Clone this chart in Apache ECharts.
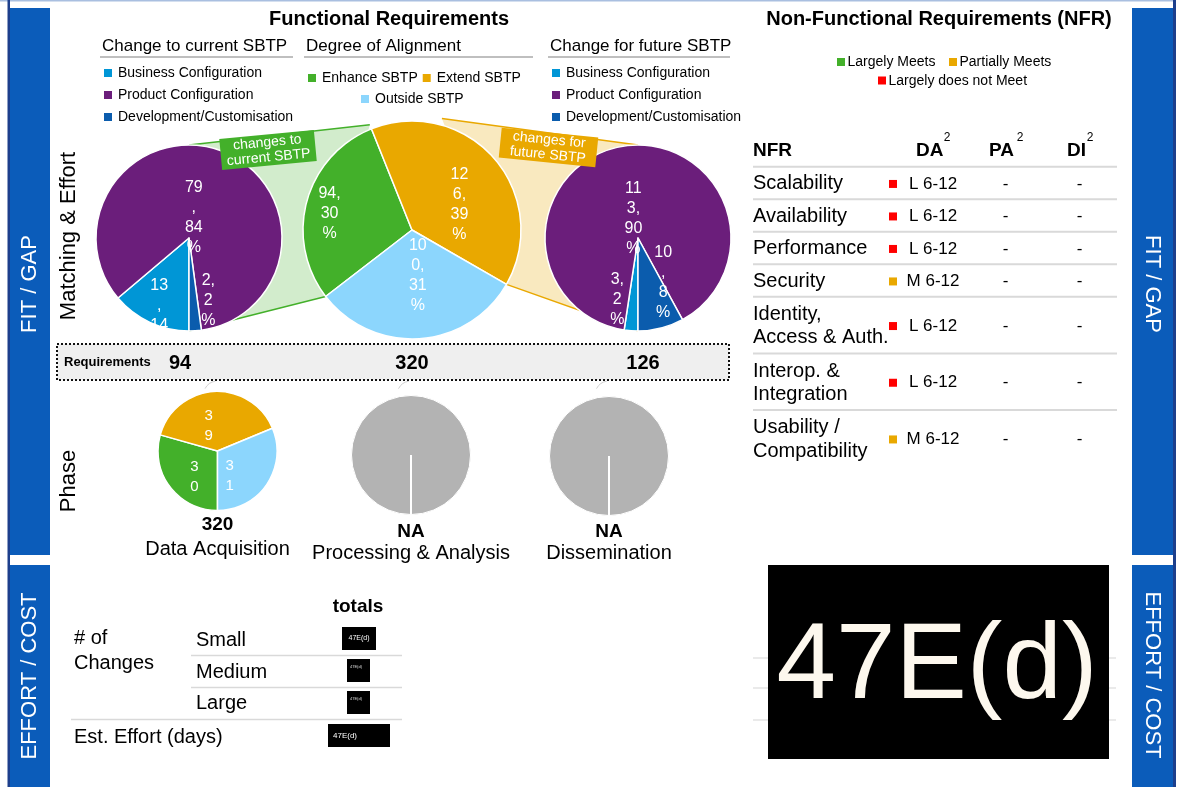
<!DOCTYPE html>
<html><head><meta charset="utf-8">
<script src="https://cdn.jsdelivr.net/npm/echarts@6/dist/echarts.min.js"></script>
<style>html,body{margin:0;padding:0;background:#fff}#c{width:1180px;height:787px}</style>
</head><body><div id="c"></div>
<script>
// ---------------- data ----------------
const changeCategories = ['Business Configuration', 'Product Configuration', 'Development/Customisation'];
const currentChanges = [13, 79, 2];
const futureChanges = [3, 113, 10];
const alignCategories = ['Enhance SBTP', 'Extend SBTP', 'Outside SBTP'];
const alignValues = [94, 126, 100];
const requirementTotals = ['94', '320', '126'];
const phaseNames = ['Data Acquisition', 'Processing & Analysis', 'Dissemination'];
const phaseTotals = ['320', 'NA', 'NA'];
const nfrColumns = ['NFR', 'DA', 'PA', 'DI'];
const nfrNames = ['Scalability', 'Availability', 'Performance', 'Security', 'Identity,\nAccess & Auth.', 'Interop. &\nIntegration', 'Usability /\nCompatibility'];
const nfrDAStatus = ['Largely does not Meet', 'Largely does not Meet', 'Largely does not Meet', 'Partially Meets', 'Largely does not Meet', 'Largely does not Meet', 'Partially Meets'];
const nfrDA = ['L 6-12', 'L 6-12', 'L 6-12', 'M 6-12', 'L 6-12', 'L 6-12', 'M 6-12'];
const nfrPA = ['-', '-', '-', '-', '-', '-', '-'];
const nfrDI = ['-', '-', '-', '-', '-', '-', '-'];
const nfrLegend = ['Largely Meets', 'Partially Meets', 'Largely does not Meet'];
const effortRows = ['Small', 'Medium', 'Large'];
const effortTotals = ['47E(d)', '47E(d)', '47E(d)'];
const estEffort = '47E(d)';
const bigValue = '47E(d)';

// ---------------- style ----------------
const FF = "'Liberation Sans', Arial, Helvetica, sans-serif";
const COL = {
  busi: '#0096d6', prod: '#6b1e7b', dev: '#0b5cad',
  enh: '#43b02a', ext: '#e9a800', out: '#8cd6fd',
  gray: '#b3b3b3', panel: '#0b5cba', panelEdge: '#1d3f8c'
};
const changeColors = [COL.busi, COL.prod, COL.dev];
const alignColors = [COL.enh, COL.ext, COL.out];
const statusColors = { 'Largely Meets': COL.enh, 'Partially Meets': COL.ext, 'Largely does not Meet': '#ff0000' };

const PIE = {
  cur: { cx: 189, cy: 238, r: 93 },
  mid: { cx: 412, cy: 230, r: 109 },
  fut: { cx: 638, cy: 238, r: 93 }
};
const alignStart = 232.4; // compass degrees where first slice starts

// label text wrapping like the original (narrow data-label boxes)
const CW = { ',': .278, ' ': .278, '%': .889, '.': .278 };
function measure(s, fs) { let w = 0; for (const ch of s) w += (CW[ch] !== undefined ? CW[ch] : .556) * fs; return w; }
function wrap(text, maxW, fs) {
  const lines = []; let cur = '';
  for (const w of text.split(' ')) {
    if (cur && measure(cur + ' ' + w, fs) <= maxW) { cur += ' ' + w; continue; }
    if (cur) { lines.push(cur); cur = ''; }
    let word = w;
    while (measure(word, fs) > maxW && word.length > 1) {
      let i = 1;
      while (i < word.length && measure(word.slice(0, i + 1), fs) <= maxW) i++;
      lines.push(word.slice(0, i)); word = word.slice(i);
    }
    cur = word;
  }
  if (cur) lines.push(cur);
  return lines.join('\n');
}

const shifts = {
  cur: [[-9, 33], [-13, 26], [16, 13]],
  mid: [[-27, -1], [4, 12], [2, -12]],
  fut: [[-17, 12], [4, 29], [13, -3]],
  phase: [[3, 6], [-7, 8], [-15, 7]]
};

function pieSeries(name, center, radius, startAngle, cats, vals, colors, wrapW, key, fs) {
  return {
    type: 'pie', name, center, radius, startAngle, clockwise: true,
    percentPrecision: 0, animation: false, silent: true,
    itemStyle: { borderColor: '#fff', borderWidth: 1.5 },
    label: {
      show: true, position: 'inside', color: '#fff', fontSize: fs, lineHeight: 20, fontFamily: FF,
      formatter: p => key === 'phase' ? wrap(String(p.percent), wrapW, fs) : wrap(p.value + ', ' + p.percent + '%', wrapW, fs)
    },
    labelLine: { show: false },
    labelLayout: p => ({ dx: shifts[key][p.dataIndex][0], dy: shifts[key][p.dataIndex][1] }),
    emphasis: { disabled: true },
    data: vals.map((v, i) => ({ name: cats[i], value: v, itemStyle: { color: colors[i] } }))
  };
}
function naSeries(center) {
  return {
    type: 'pie', center, radius: 59.5, startAngle: 270, animation: false, silent: true,
    itemStyle: { borderColor: '#fff', borderWidth: 1, color: COL.gray },
    label: { show: false }, labelLine: { show: false }, emphasis: { disabled: true },
    data: [{ name: 'NA', value: 1 }]
  };
}

// ---------------- graphic helpers ----------------
function txt(x, y, s, o) {
  o = o || {};
  const st = { text: s, fill: o.color || '#000', fontSize: o.size || 14, fontWeight: o.bold ? 'bold' : 'normal',
    fontFamily: FF, align: o.align || 'left', verticalAlign: o.va || 'middle' };
  if (o.lh) st.lineHeight = o.lh;
  return { type: 'text', x, y, z: o.z !== undefined ? o.z : 20, rotation: o.rot || 0, silent: true, style: st };
}
function rect(x, y, w, h, fill, o) {
  o = o || {};
  return { type: 'rect', z: o.z !== undefined ? o.z : 20, silent: true, shape: { x, y, width: w, height: h },
    style: { fill, stroke: o.stroke || null, lineWidth: o.lw || 0, lineDash: o.dash || null } };
}
function line(x1, y1, x2, y2, stroke, lw, z) {
  return { type: 'line', z: z !== undefined ? z : 20, silent: true, shape: { x1, y1, x2, y2 }, style: { stroke, lineWidth: lw } };
}
function pt(c, deg, k) { const a = deg * Math.PI / 180; k = k || 1; return [c.cx + c.r * k * Math.sin(a), c.cy - c.r * k * Math.cos(a)]; }

const totalAlign = alignValues.reduce((a, b) => a + b, 0);
const enhEnd = alignStart + 360 * alignValues[0] / totalAlign;
const extEnd = enhEnd + 360 * alignValues[1] / totalAlign;

const G = [];
// page frame
G.push(rect(0, 0, 1174, 1.5, '#a9bfe0', { z: 5 }));
G.push(rect(7.5, 0, 2.5, 787, COL.panelEdge, { z: 5 }));
G.push(rect(10, 8, 40, 547, COL.panel, { z: 5 }));
G.push(rect(10, 565, 40, 222, COL.panel, { z: 5 }));
G.push(rect(1173, 0, 3, 787, COL.panelEdge, { z: 5 }));
G.push(rect(1132, 8, 41, 547, COL.panel, { z: 5 }));
G.push(rect(1132, 565, 41, 222, COL.panel, { z: 5 }));
G.push(txt(30, 284, 'FIT / GAP', { color: '#fff', size: 22, align: 'center', rot: Math.PI / 2 }));
G.push(txt(30, 676, 'EFFORT / COST', { color: '#fff', size: 22, align: 'center', rot: Math.PI / 2 }));
G.push(txt(1152, 284, 'FIT / GAP', { color: '#fff', size: 22, align: 'center', rot: -Math.PI / 2 }));
G.push(txt(1152, 675, 'EFFORT / COST', { color: '#fff', size: 22, align: 'center', rot: -Math.PI / 2 }));

// functional requirements headers
G.push(txt(389, 19, 'Functional Requirements', { size: 20, bold: true, align: 'center' }));
G.push(txt(102, 46, 'Change to current SBTP', { size: 17 }));
G.push(txt(306, 46, 'Degree of Alignment', { size: 17 }));
G.push(txt(550, 46, 'Change for future SBTP', { size: 17 }));
G.push(line(100, 57, 293, 57, '#bfbfbf', 2));
G.push(line(304, 57, 533, 57, '#bfbfbf', 2));
G.push(line(548, 57, 730, 57, '#bfbfbf', 2));
G.push(txt(69, 236, 'Matching & Effort', { size: 22, align: 'center', rot: Math.PI / 2 }));
G.push(txt(69, 481, 'Phase', { size: 22, align: 'center', rot: Math.PI / 2 }));

// connector bands
const cTop = [PIE.cur.cx, PIE.cur.cy - PIE.cur.r], cBot = [PIE.cur.cx, PIE.cur.cy + PIE.cur.r];
const fTop = [PIE.fut.cx, PIE.fut.cy - PIE.fut.r], fBot = [PIE.fut.cx, PIE.fut.cy + PIE.fut.r];
const gA = pt(PIE.mid, enhEnd, 1.04), gB = pt(PIE.mid, alignStart, 1);
const yA = pt(PIE.mid, 15, 1.06), yB = pt(PIE.mid, extEnd, 1);
G.push({ type: 'polygon', z: 0, silent: true, shape: { points: [cTop, gA, gB, cBot] }, style: { fill: 'rgba(67,176,42,0.24)' } });
G.push({ type: 'polyline', z: 0, silent: true, shape: { points: [cTop, gA] }, style: { stroke: COL.enh, lineWidth: 1.5, fill: null } });
G.push({ type: 'polyline', z: 0, silent: true, shape: { points: [cBot, gB] }, style: { stroke: COL.enh, lineWidth: 1.5, fill: null } });
G.push({ type: 'polygon', z: 0, silent: true, shape: { points: [yA, fTop, fBot, yB] }, style: { fill: 'rgba(233,168,0,0.25)' } });
G.push({ type: 'polyline', z: 0, silent: true, shape: { points: [yA, fTop] }, style: { stroke: COL.ext, lineWidth: 1.5, fill: null } });
G.push({ type: 'polyline', z: 0, silent: true, shape: { points: [yB, fBot] }, style: { stroke: COL.ext, lineWidth: 1.5, fill: null } });
function tag(cx, cy, w, h, rot, fill, label) {
  return { type: 'group', x: cx, y: cy, rotation: rot, z: 30, silent: true, children: [
    { type: 'rect', z: 30, shape: { x: -w / 2, y: -h / 2, width: w, height: h }, style: { fill } },
    { type: 'text', z: 31, style: { text: label, fill: '#fff', fontSize: 14, lineHeight: 15, fontFamily: FF, align: 'center', verticalAlign: 'middle' } }
  ] };
}
G.push(tag(268, 150, 95, 31, 0.094, COL.enh, 'changes to\ncurrent SBTP'));
G.push(tag(548.5, 147.5, 97, 30, -0.1, COL.ext, 'changes for\nfuture SBTP'));

// requirements box
G.push(rect(57, 344, 672, 36, '#efefef', { stroke: '#111', lw: 2, dash: [2, 2], z: 25 }));
G.push(txt(64, 362, 'Requirements', { size: 13, bold: true, z: 26 }));
G.push(txt(169, 363, requirementTotals[0], { size: 20, bold: true, z: 26 }));
G.push(txt(PIE.mid.cx, 363, requirementTotals[1], { size: 20, bold: true, align: 'center', z: 26 }));
G.push(txt(643, 363, requirementTotals[2], { size: 20, bold: true, align: 'center', z: 26 }));

// phase captions
const phaseX = [217.5, 411, 609];
const phaseCY = [451, 455, 456];
const phaseTotY = [525, 531.5, 531.5];
phaseNames.forEach((n, i) => {
  G.push(txt(phaseX[i], phaseTotY[i], phaseTotals[i], { size: 19, bold: true, align: 'center' }));
  G.push(txt(phaseX[i], i === 0 ? 549 : 553, n, { size: 20, align: 'center' }));
  if (i > 0) G.push(line(phaseX[i], phaseCY[i], phaseX[i], phaseCY[i] + 59.5, '#fff', 2));
  G.push({ type: 'arc', z: 20, silent: true, shape: { cx: phaseX[i], cy: 395, r: 14, startAngle: Math.PI * 1.15, endAngle: Math.PI * 1.45 }, style: { stroke: '#d0d0d0', lineWidth: 1, fill: null } });
});

// NFR section
G.push(txt(939, 19, 'Non-Functional Requirements (NFR)', { size: 20, bold: true, align: 'center' }));
const legPos = [[837, 58], [949, 58], [878, 76.5]];
nfrLegend.forEach((n, i) => {
  G.push(rect(legPos[i][0], legPos[i][1], 8, 8, statusColors[n]));
  G.push(txt(legPos[i][0] + 10.5, legPos[i][1] + 4.5, n, { size: 14 }));
});
const colX = [753, 916, 989, 1067];
const supX = [0, 947, 1020, 1090];
nfrColumns.forEach((c, i) => {
  G.push(txt(colX[i], 151, c, { size: 19, bold: true }));
  if (i > 0) G.push(txt(supX[i], 138, '2', { size: 12, align: 'center' }));
});
let yTop = 166.7;
G.push(line(753, yTop, 1117, yTop, '#d9d9d9', 2));
nfrNames.forEach((n, i) => {
  const two = n.indexOf('\n') >= 0;
  const h = two ? 56.7 : 32.5;
  const cy = yTop + h / 2;
  G.push(txt(753, cy + 1, n, { size: 20, lh: 23.4 }));
  G.push(rect(889, cy - 3, 8, 8, statusColors[nfrDAStatus[i]]));
  G.push(txt(933, cy + 1, nfrDA[i], { size: 17, align: 'center' }));
  G.push(txt(1005.5, cy + 1, nfrPA[i], { size: 17, align: 'center' }));
  G.push(txt(1079.5, cy + 1, nfrDI[i], { size: 17, align: 'center' }));
  yTop += h;
  if (i < nfrNames.length - 1) G.push(line(753, yTop, 1117, yTop, '#d9d9d9', 2));
});

// effort table
G.push(txt(358, 607, 'totals', { size: 19, bold: true, align: 'center' }));
G.push(txt(74, 651, '# of\nChanges', { size: 20, lh: 25 }));
const effY = [640, 672, 703.5];
const boxes = [[342, 627, 34, 23, 7], [347, 659, 23, 23, 4], [347, 691, 23, 23, 4]];
effortRows.forEach((r, i) => {
  G.push(txt(196, effY[i], r, { size: 20 }));
  const b = boxes[i];
  G.push(rect(b[0], b[1], b[2], b[3], '#000'));
  if (b[4] > 5) G.push(txt(b[0] + b[2] / 2, b[1] + b[3] / 2, effortTotals[i], { size: b[4], color: '#fff', align: 'center' }));
  else G.push(txt(b[0] + 3, b[1] + 8, wrap(effortTotals[i], 14, b[4]), { size: b[4], color: '#ddd', lh: 5 }));
});
G.push(line(191, 655.5, 402, 655.5, '#d9d9d9', 1.5));
G.push(line(191, 687.5, 402, 687.5, '#d9d9d9', 1.5));
G.push(line(71, 719.5, 402, 719.5, '#d9d9d9', 1.5));
G.push(txt(74, 737, 'Est. Effort (days)', { size: 20 }));
G.push(rect(328, 724, 62, 23, '#000'));
G.push(txt(333, 736, estEffort, { size: 8, color: '#fff' }));

// big value box
[658, 688, 720].forEach(y => G.push(line(753, y, 1116, y, '#e3e3e3', 1.5, 5)));
G.push(rect(768, 565, 341, 194, '#000', { z: 10 }));
G.push(txt(937, 668, bigValue, { size: 107, color: '#fdf8ee', align: 'center', z: 11 }));

// ---------------- option ----------------
const legendBase = { icon: 'rect', itemWidth: 10, itemHeight: 10, padding: 0, selectedMode: false,
  textStyle: { fontSize: 14, color: '#000', fontFamily: FF, lineHeight: 14, padding: 0 } };
const option = {
  animation: false,
  legend: [
    Object.assign({}, legendBase, { data: changeCategories, orient: 'vertical', left: 102, top: 66, itemGap: 8 }),
    Object.assign({}, legendBase, { data: alignCategories.slice(0, 2), orient: 'horizontal', left: 306, top: 71, itemGap: 3 }),
    Object.assign({}, legendBase, { data: alignCategories.slice(2), orient: 'horizontal', left: 359, top: 92 }),
    Object.assign({}, legendBase, { data: changeCategories, orient: 'vertical', left: 550, top: 66, itemGap: 8 })
  ],
  series: [
    pieSeries('Change to current SBTP', [PIE.cur.cx, PIE.cur.cy], PIE.cur.r, 270, changeCategories, currentChanges, changeColors, 20, 'cur', 16),
    pieSeries('Degree of Alignment', [PIE.mid.cx, PIE.mid.cy], PIE.mid.r, 90 - alignStart, alignCategories, alignValues, alignColors, 24, 'mid', 16),
    pieSeries('Change for future SBTP', [PIE.fut.cx, PIE.fut.cy], PIE.fut.r, 270, changeCategories, futureChanges, changeColors, 20, 'fut', 16),
    pieSeries('Data Acquisition', [phaseX[0], phaseCY[0]], 59.5, 270, alignCategories, alignValues, alignColors, 10, 'phase', 15),
    naSeries([phaseX[1], phaseCY[1]]),
    naSeries([phaseX[2], phaseCY[2]])
  ],
  graphic: { elements: G }
};
const chart = echarts.init(document.getElementById('c'), null, { renderer: 'canvas' });
chart.setOption(option);
</script></body></html>
